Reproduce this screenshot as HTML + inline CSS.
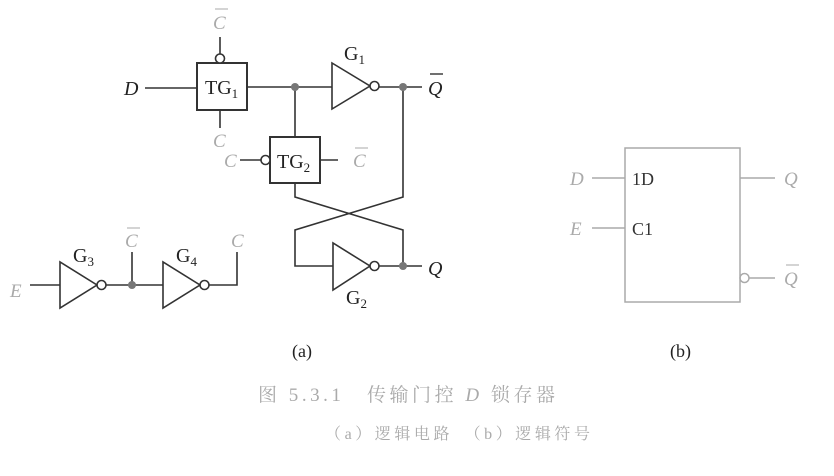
<!DOCTYPE html><html><head><style>body{margin:0;background:#fff}</style></head><body>
<svg width="834" height="471" viewBox="0 0 834 471" xmlns="http://www.w3.org/2000/svg" font-family="Liberation Serif, Noto Serif CJK SC, serif">
<g stroke="#333" stroke-width="1.6" fill="none">
<rect x="197" y="63" width="50" height="47" stroke-width="2"/>
<line x1="220" y1="37" x2="220" y2="54"/><circle cx="220" cy="58.5" r="4.5" fill="#fff"/>
<line x1="220" y1="110" x2="220" y2="128"/>
<line x1="145" y1="88" x2="197" y2="88"/>
<line x1="247" y1="87" x2="332" y2="87"/>
<polygon points="332,63 332,109 370,86" fill="#fff"/><circle cx="374.5" cy="86" r="4.5" fill="#fff"/>
<line x1="379" y1="87" x2="422" y2="87"/>
<rect x="270" y="137" width="50" height="46" stroke-width="2"/>
<line x1="295" y1="87" x2="295" y2="137"/>
<line x1="240" y1="160" x2="261" y2="160"/><circle cx="265.5" cy="160" r="4.5" fill="#fff"/>
<line x1="320" y1="160" x2="338" y2="160"/>
<polyline points="295,183 295,197 403,230 403,266"/>
<polyline points="403,87 403,197 295,230 295,266 333,266"/>
<polygon points="333,243 333,290 370,266" fill="#fff"/><circle cx="374.5" cy="266" r="4.5" fill="#fff"/>
<line x1="379" y1="266" x2="422" y2="266"/>
<line x1="30" y1="285" x2="60" y2="285"/>
<polygon points="60,262 60,308 97,285" fill="#fff"/><circle cx="101.5" cy="285" r="4.5" fill="#fff"/>
<line x1="106" y1="285" x2="163" y2="285"/><line x1="132" y1="285" x2="132" y2="252"/>
<polygon points="163,262 163,308 200,285" fill="#fff"/><circle cx="204.5" cy="285" r="4.5" fill="#fff"/>
<polyline points="209,285 237,285 237,252"/>
</g>
<g fill="#777"><circle cx="295" cy="87" r="4"/><circle cx="403" cy="87" r="4"/><circle cx="403" cy="266" r="4"/><circle cx="132" cy="285" r="4"/></g>
<g font-size="20" fill="#222">
<text x="124" y="95" font-style="italic">D</text>
<text x="205" y="94">TG<tspan font-size="13" dy="4">1</tspan></text>
<text x="277" y="168">TG<tspan font-size="13" dy="4">2</tspan></text>
<text x="344" y="60">G<tspan font-size="13" dy="4">1</tspan></text>
<text x="346" y="304">G<tspan font-size="13" dy="4">2</tspan></text>
<text x="73" y="262">G<tspan font-size="13" dy="4">3</tspan></text>
<text x="176" y="262">G<tspan font-size="13" dy="4">4</tspan></text>
<text x="428" y="95" font-style="italic">Q</text><line x1="430" y1="74" x2="443" y2="74" stroke="#222" stroke-width="1.3"/>
<text x="428" y="275" font-style="italic">Q</text>
<text x="292" y="357" font-size="18">(a)</text>
<text x="670" y="357" font-size="18">(b)</text>
</g>
<g font-size="19" fill="#aaa" font-style="italic">
<text x="213" y="29">C</text><line x1="215" y1="9" x2="228" y2="9" stroke="#aaa"/>
<text x="213" y="147">C</text>
<text x="224" y="167">C</text>
<text x="353" y="167">C</text><line x1="355" y1="148" x2="368" y2="148" stroke="#aaa"/>
<text x="125" y="247">C</text><line x1="127" y1="228" x2="140" y2="228" stroke="#aaa"/>
<text x="231" y="247">C</text>
<text x="10" y="297">E</text>
<text x="570" y="185">D</text><text x="570" y="235">E</text>
<text x="784" y="185">Q</text><text x="784" y="285">Q</text><line x1="786" y1="265" x2="799" y2="265" stroke="#aaa"/>
</g>
<g stroke="#aaa" stroke-width="1.5" fill="none">
<rect x="625" y="148" width="115" height="154"/>
<line x1="592" y1="178" x2="625" y2="178"/><line x1="592" y1="228" x2="625" y2="228"/>
<line x1="740" y1="178" x2="775" y2="178"/>
<circle cx="744.5" cy="278" r="4.5"/><line x1="749" y1="278" x2="775" y2="278"/>
</g>
<g font-size="18" fill="#333"><text x="632" y="185">1D</text><text x="632" y="235">C1</text></g>
<text x="258" y="401" font-size="19" fill="#aaa" textLength="297" lengthAdjust="spacing">图 5.3.1　传输门控 <tspan font-style="italic">D</tspan> 锁存器</text>
<text x="325" y="439" font-size="16" fill="#aaa" textLength="265" lengthAdjust="spacing">（a）逻辑电路　（b）逻辑符号</text>
</svg></body></html>
